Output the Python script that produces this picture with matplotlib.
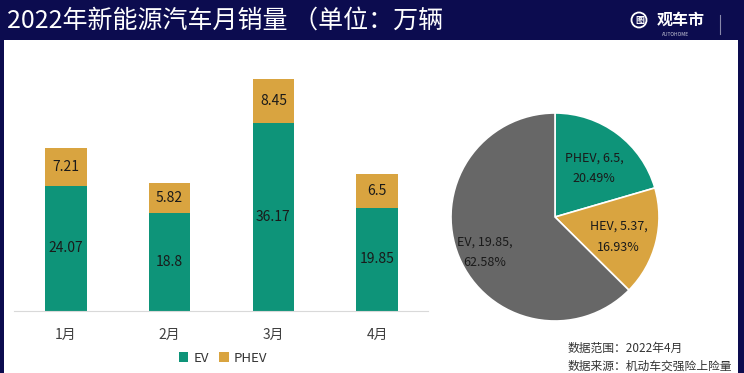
import matplotlib
import matplotlib.pyplot as plt
from matplotlib.patches import Rectangle, Ellipse
import numpy as np

# 데이터
months = ['1月', '2月', '3月', '4月']
ev = [24.07, 18.8, 36.17, 19.85]
phev = [7.21, 5.82, 8.45, 6.5]

pie_names = ['PHEV', 'HEV', 'EV']
pie_values = [6.5, 5.37, 19.85]
pie_pcts = ['20.49%', '16.93%', '62.58%']

title = '2022年新能源汽车月销量 （单位：万辆'
notes = ['数据范围：2022年4月', '数据来源：机动车交强险上险量']

# 색상
navy = '#0c0c4f'
teal = '#0e9479'
gold = '#d9a440'
gray = '#676767'

matplotlib.rcParams['font.family'] = ['Noto Sans CJK SC', 'DejaVu Sans']
matplotlib.rcParams['axes.unicode_minus'] = False

W, H = 744, 373
fig = plt.figure(figsize=(W / 100, H / 100), dpi=100, facecolor=navy)

# 흰색 패널
fig.patches.append(Rectangle((4 / W, 0), (738 - 4) / W, (H - 40) / H,
                             transform=fig.transFigure, facecolor='white',
                             edgecolor='none', zorder=-5))

# 제목
fig.text(7 / W, 1 - 21 / H, title, color='white', fontsize=18, va='center', ha='left')

# 로고
fig.patches.append(Ellipse((639 / W, 1 - 20 / H), 15 / W, 15 / H, transform=fig.transFigure,
                           facecolor='none', edgecolor='white', lw=1.3))
fig.text(639.5 / W, 1 - 20 / H, '图', color='white', fontsize=6.5, ha='center', va='center',
         fontweight='bold')
fig.text(681 / W, 1 - 20 / H, '观车市', color='white', fontsize=11.5, ha='center',
         va='center', fontweight='bold', style='italic')
fig.text(676 / W, 1 - 34 / H, 'AUTOHOME', color='#c8c8d8', fontsize=3.5, ha='center',
         va='center', style='italic')
fig.lines.append(plt.Line2D([720 / W, 720 / W], [1 - 15 / H, 1 - 34 / H],
                            transform=fig.transFigure, color='#8888aa', lw=0.8))

# 막대 그래프
ax = fig.add_axes([14 / W, (H - 311) / H, (428 - 14) / W, 260 / H])
x = np.arange(len(months))
b1 = ax.bar(x, ev, width=0.4, color=teal, label='EV')
b2 = ax.bar(x, phev, width=0.4, bottom=ev, color=gold, label='PHEV')
ax.bar_label(b1, labels=[f'{v:g}' for v in ev], label_type='center', fontsize=10, color='#1a1a1a')
ax.bar_label(b2, labels=[f'{v:g}' for v in phev], label_type='center', fontsize=10, color='#1a1a1a')
ax.set_xlim(-0.5, 3.49)
ax.set_ylim(0, 50)
ax.set_xticks(x)
ax.set_xticklabels(months, fontsize=10, color='#404040')
ax.tick_params(axis='x', length=0, pad=12)
ax.set_yticks([])
for s in ['top', 'right', 'left']:
    ax.spines[s].set_visible(False)
ax.spines['bottom'].set_color('#d9d9d9')
ax.patch.set_alpha(0)
ax.legend(loc='center', bbox_to_anchor=(223 / W, 1 - 358 / H), bbox_transform=fig.transFigure,
          ncol=2, frameon=False, fontsize=9.5, handlelength=0.7, handleheight=0.7,
          handletextpad=0.4, columnspacing=0.8, labelcolor='#333333')

# 파이 차트
pax = fig.add_axes([451 / W, (H - 321) / H, 208 / W, 208 / H])
wedges, _ = pax.pie(pie_values, colors=[teal, gold, gray], startangle=90, counterclock=False,
                    wedgeprops=dict(edgecolor='white', linewidth=1.2))
label_r = [0.6, 0.64, 0.76]
label_shift = [-2, -3, 4]
for w, name, val, pct, r, sh in zip(wedges, pie_names, pie_values, pie_pcts, label_r, label_shift):
    ang = np.deg2rad((w.theta1 + w.theta2) / 2 + sh)
    pax.text(r * np.cos(ang), r * np.sin(ang), f'{name}, {val:g},\n{pct}', ha='center',
             va='center', fontsize=9, color='#1a1a1a', linespacing=1.8)
pax.set_xlim(-1, 1)
pax.set_ylim(-1, 1)
pax.set_aspect('equal')

# 주석
fig.text(568 / W, 1 - 348 / H, notes[0], fontsize=8.5, color='#333333', va='center')
fig.text(568 / W, 1 - 366 / H, notes[1], fontsize=8.5, color='#333333', va='center')

plt.savefig('out.png', dpi=100, facecolor=navy)
